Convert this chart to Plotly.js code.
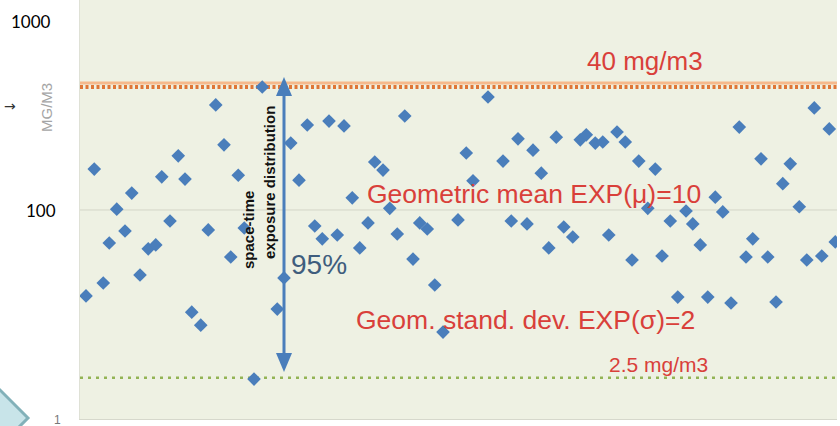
<!DOCTYPE html>
<html>
<head>
<meta charset="utf-8">
<script src="https://cdn.plot.ly/plotly-3.0.1.min.js"></script>
<style>html,body{margin:0;padding:0;background:#fff;}#chart{width:840px;height:426px;}</style>
</head>
<body>
<div id="chart"></div>
<script>
// Sample index (x) and measured exposure (mg/m3, log axis)
const sampleIdx = [0.8,1.9,3.1,3.9,4.9,6.0,6.9,8.0,9.1,10.1,
  10.9,12.0,13.1,14.0,14.9,16.1,17.1,18.1,19.2,20.1,
  21.1,21.9,23.2,24.3,26.3,27.2,28.1,29.2,30.3,31.3,
  32.3,33.2,34.3,35.2,36.3,37.3,38.4,39.3,40.4,41.3,
  42.3,43.3,44.4,45.3,46.3,47.3,48.4,50.4,51.5,52.4,
  54.4,56.4,57.5,58.4,59.6,60.4,61.5,62.5,63.5,64.5,
  65.7,66.7,67.5,68.7,69.7,70.5,71.6,72.7,73.6,74.5,
  75.7,76.7,77.6,78.7,79.7,80.8,81.7,82.7,83.7,84.7,
  85.7,86.8,87.9,88.8,89.7,90.8,91.7,92.8,93.7,94.7,
  95.9,96.9,97.9,98.9,99.9,100.7];
const exposure = [34.9,165,40.9,66.7,101,77.3,123,45.1,62.1,65.2,
  150,87.4,194,146,28.6,24.4,78.3,362,222,56.2,
  153,80.2,12.6,451,29.7,43.5,227,144,283,82.2,
  70.2,297,73.6,280,116,62.8,85.3,180,163,102,
  74.5,316,54.8,85.3,79.2,39.9,22.4,88.5,201,143,
  399,182,87.4,239,84.3,208,157,62.8,244,81.2,
  71.8,236,251,227,230,73.6,260,230,54.2,182,
  102,165,56.9,87.4,34.4,98.8,84.3,65.2,34.4,117,
  97.6,32.0,276,56.2,70.2,187,56.2,32.4,138,176,
  104,54.2,349,56.9,270,67.6];
// Reference levels (axis units)
const refGrid = 100;
const refHighSolid = 474;
const refHighDots = 451;
const refLow = 12.8;
const xSpan = [0, 100.93];
const yLogRange = [0.888, 3.117];
const axisLabels = ['1000', '100', '1'];

const red = '#d9403a';
const traces = [
  {x: xSpan, y: [refGrid, refGrid], mode: 'lines', line: {color: '#d3d5c7', width: 1}, hoverinfo: 'skip'},
  {x: xSpan, y: [refHighSolid, refHighSolid], mode: 'lines', line: {color: '#f5b98c', width: 3}, hoverinfo: 'skip'},
  {x: xSpan, y: [refHighDots, refHighDots], mode: 'lines', line: {color: '#df7636', width: 4, dash: '3px,2.5px'}, hoverinfo: 'skip'},
  {x: xSpan, y: [refLow, refLow], mode: 'lines', line: {color: '#93b455', width: 2.5, dash: '3px,5px'}, hoverinfo: 'skip'},
  {x: sampleIdx, y: exposure, mode: 'markers', marker: {symbol: 'diamond', size: 10.5, color: '#4a7ebb'}}
];

const W = 757, H = 419, L = 80;
const px = v => (v - L) / W;
const py = v => 1 - v / H;

const baseFont = 'Liberation Sans, Arial, sans-serif';
const annotations = [
  {text: '40 mg/m3', x: px(645), y: py(61), font: {size: 26, color: red}},
  {text: 'Geometric mean EXP(\u03bc)=10', x: px(534), y: py(194), font: {size: 26.5, color: red}},
  {text: 'Geom. stand. dev. EXP(\u03c3)=2', x: px(525), y: py(320), font: {size: 26.5, color: red}},
  {text: '2.5 mg/m3', x: px(658), y: py(364), font: {size: 21, color: red}},
  {text: '95%', x: px(319), y: py(264), font: {size: 28, color: '#3f5d7d'}},
  {text: '<b>space-time</b>', x: px(249), y: py(230), textangle: -90, font: {size: 15, color: '#111'}},
  {text: '<b>exposure distribution</b>', x: px(269), y: py(183), textangle: -90, font: {size: 15, color: '#111'}},
  {text: axisLabels[0], x: px(31), y: py(22), font: {size: 17, color: '#000', family: 'Lato, Liberation Sans, sans-serif'}},
  {text: axisLabels[1], x: px(41), y: py(210), font: {size: 17, color: '#000', family: 'Lato, Liberation Sans, sans-serif'}},
  {text: axisLabels[2], x: px(57), y: py(420), font: {size: 12, color: '#777'}},
  {text: 'MG/M3', x: px(46), y: py(108), textangle: -90, font: {size: 15, color: '#a5a5a5'}},
  {text: '\u2192', x: px(10), y: py(106), font: {size: 14, color: '#333', family: 'DejaVu Sans, sans-serif'}}
].map(a => Object.assign({xref: 'paper', yref: 'paper', showarrow: false, xanchor: 'center', yanchor: 'middle'},
  a, {font: Object.assign({family: baseFont}, a.font)}));

const arrowColor = '#4a7ebb';
const shapes = [
  {type: 'path', xref: 'paper', yref: 'paper', layer: 'above',
   path: `M ${px(28)},${py(418)} L ${px(-2)},${py(388)} L ${px(-2)},${py(448)} Z`,
   fillcolor: '#c8e4e9', line: {color: '#82b1b9', width: 3}},
  {type: 'line', xref: 'paper', yref: 'paper', layer: 'above',
   x0: px(284), x1: px(284), y0: py(92), y1: py(357), line: {color: arrowColor, width: 3}},
  {type: 'path', xref: 'paper', yref: 'paper', layer: 'above',
   path: `M ${px(284)},${py(77)} L ${px(276)},${py(96)} L ${px(292)},${py(96)} Z`,
   fillcolor: arrowColor, line: {width: 0}},
  {type: 'path', xref: 'paper', yref: 'paper', layer: 'above',
   path: `M ${px(284)},${py(372)} L ${px(276)},${py(353)} L ${px(292)},${py(353)} Z`,
   fillcolor: arrowColor, line: {width: 0}}
];

const layout = {
  width: 840, height: 426,
  margin: {l: 80, r: 3, t: 0, b: 7, pad: 0},
  paper_bgcolor: '#ffffff',
  plot_bgcolor: '#eef1e3',
  showlegend: false,
  xaxis: {range: xSpan, showgrid: false, zeroline: false, showticklabels: false, ticks: '',
          showline: true, linecolor: '#d6d8cc', linewidth: 1},
  yaxis: {type: 'log', range: yLogRange, showgrid: false, zeroline: false, showticklabels: false, ticks: '',
          showline: true, linecolor: '#dfe1d6', linewidth: 1},
  annotations: annotations,
  shapes: shapes
};

Plotly.newPlot('chart', traces, layout, {staticPlot: true, displayModeBar: false});
</script>
</body>
</html>
